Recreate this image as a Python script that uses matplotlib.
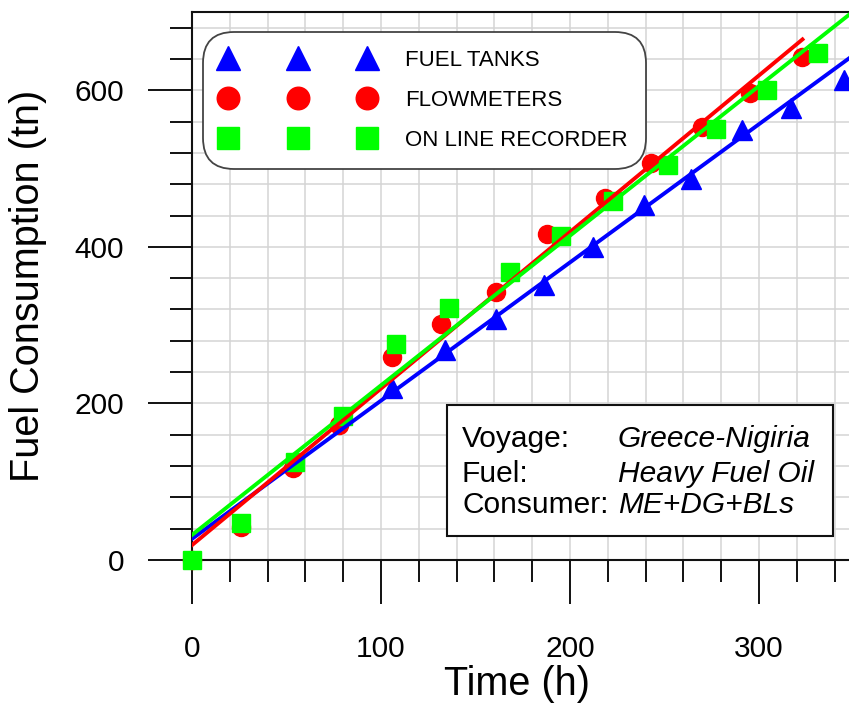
import numpy as np
import matplotlib
matplotlib.use("Agg")
import matplotlib.pyplot as plt
from matplotlib.patches import Rectangle

plt.rcParams['font.family'] = ['Liberation Sans', 'DejaVu Sans']

# ---------------- data ----------------
tanks_t = [106, 134, 161, 186, 212, 239, 264, 291, 317, 345]
tanks_c = [220, 268, 308, 351, 400, 454, 487, 549, 577, 613]

flow_t = [0, 26, 53.5, 78, 106, 132, 161, 188, 218.5, 243, 270, 295, 323]
flow_c = [0, 42, 117, 172, 259, 301, 342, 417, 462, 507, 553, 596, 642]

rec_t = [0, 26, 54.5, 80, 108, 136, 168, 195, 223, 252, 277, 304, 331]
rec_c = [0, 47, 125, 184, 276, 322, 368, 414, 458, 505, 551, 600, 648]

# fitted lines (end points)
tanks_fit_t = [0, 350]
tanks_fit_c = [27, 645]
flow_fit_t = [0, 323]
flow_fit_c = [19, 665]
rec_fit_t = [0, 350]
rec_fit_c = [32, 701]

series_labels = ['FUEL TANKS', 'FLOWMETERS', 'ON LINE RECORDER']
x_major = [0, 100, 200, 300]
y_major = [0, 200, 400, 600]

info_keys = ['Voyage:', 'Fuel:', 'Consumer:']
info_vals = ['Greece-Nigiria', 'Heavy Fuel Oil', 'ME+DG+BLs']

# ---------------- figure ----------------
W, H = 849, 704
fig = plt.figure(figsize=(W / 100, H / 100), dpi=100)
ax = fig.add_axes([192 / W, 144 / H, (853.5 - 192) / W, 548 / H])

BLUE, RED, GREEN = '#0000ff', '#ff0000', '#00ff00'

l1, = ax.plot(tanks_t, tanks_c, ls='none', marker='^', ms=14, color=BLUE,
              mec=BLUE, clip_on=False, zorder=3, label=series_labels[0])
l2, = ax.plot(flow_t, flow_c, ls='none', marker='o', ms=13, color=RED,
              mec=RED, clip_on=False, zorder=3, label=series_labels[1])
l3, = ax.plot(rec_t, rec_c, ls='none', marker='s', ms=13, color=GREEN,
              mec=GREEN, clip_on=False, zorder=3, label=series_labels[2])

ax.plot(tanks_fit_t, tanks_fit_c, color=BLUE, lw=2.8, zorder=4)
ax.plot(flow_fit_t, flow_fit_c, color=RED, lw=2.8, zorder=4)
ax.plot(rec_fit_t, rec_fit_c, color=GREEN, lw=2.8, zorder=4)

ax.set_xlim(0, 350)
ax.set_ylim(0, 700)
ax.set_xticks(x_major)
ax.set_yticks(y_major)
ax.set_xticks(np.arange(0, 351, 20), minor=True)
ax.set_yticks(np.arange(0, 701, 40), minor=True)
ax.grid(which='both', color='#d4d4d4', lw=1.1, zorder=0)
ax.set_axisbelow(True)

for s in ['left', 'bottom', 'top']:
    ax.spines[s].set_linewidth(1.5)
    ax.spines[s].set_color('#111111')
ax.spines['right'].set_visible(False)

ax.tick_params(which='major', direction='out', length=32, width=1.4,
               color='#111111', labelsize=21.5, pad=22)
ax.tick_params(which='minor', direction='out', length=16, width=1.4,
               color='#111111')
ax.tick_params(axis='y', which='major', pad=17)

fig.text(517 / W, 1 - 684 / H, 'Time (h)', fontsize=28.5,
         ha='center', va='center')
fig.text(28 / W, 1 - 286 / H, 'Fuel Consumption (tn)', fontsize=28.5,
         rotation=90, ha='center', va='center')

leg = ax.legend(handles=[l1, l2, l3], numpoints=3, markerscale=1.25,
                loc='upper left', bbox_to_anchor=(203 / W, 1 - 32 / H),
                bbox_transform=fig.transFigure, borderaxespad=0,
                fontsize=16, handlelength=6.87, handletextpad=1.4,
                labelspacing=0.85, borderpad=0.82, fancybox=True,
                framealpha=1, edgecolor='#444444')
leg.get_frame().set_boxstyle('round,pad=0,rounding_size=1.4')
leg.get_frame().set_linewidth(1.3)
leg.set_zorder(6)

rect = Rectangle((447 / W, 1 - 536 / H), (833 - 447) / W, (536 - 405) / H,
                 transform=fig.transFigure, facecolor='white',
                 edgecolor='#111111', lw=1.5, zorder=6)
ax.add_artist(rect)
rect.set_clip_on(False)

baselines = [447, 482, 513]
for k, v, b in zip(info_keys, info_vals, baselines):
    fig.text(462 / W, 1 - b / H, k, fontsize=21.5, ha='left', va='baseline',
             zorder=7)
    fig.text(618 / W, 1 - b / H, v, fontsize=21.5, style='italic',
             ha='left', va='baseline', zorder=7)

fig.savefig('out.png', dpi=100)
